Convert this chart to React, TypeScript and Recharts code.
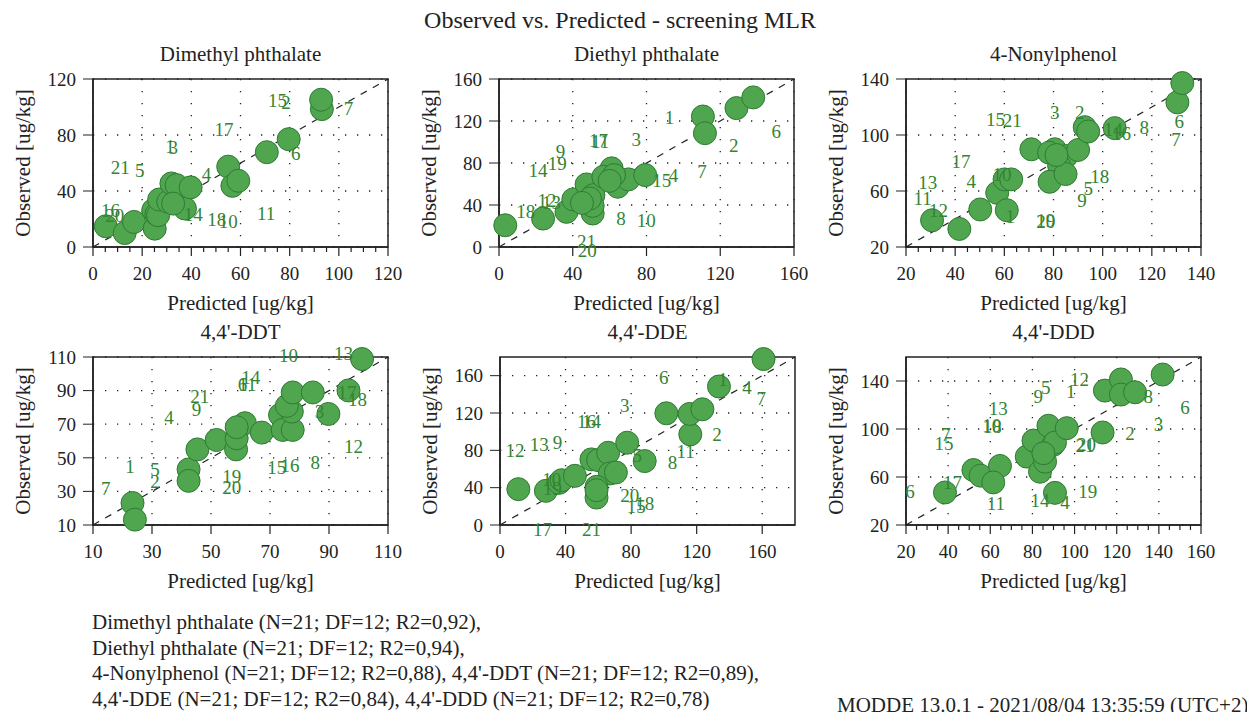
import React from 'react'
import {
  ScatterChart,
  Scatter,
  XAxis,
  YAxis,
  CartesianGrid,
  ReferenceLine,
  ReferenceDot,
  ReferenceArea
} from 'recharts'

type Pt = [number, number]
type Lab = [string, number, number]

// Dimethyl phthalate: [predicted, observed]
const dmpPoints: Pt[] = [
  [5.2, 14.8], [12.9, 10], [16.7, 17.9], [25.1, 13.1], [24.5, 26.3], [25.8, 23.4], [26.5, 22.7],
  [26.9, 33.9], [30.6, 32.3], [31.9, 45.4], [34, 44.2], [37.4, 27.5], [39.7, 42.6], [55, 57.4],
  [56.7, 43.7], [59.1, 47.3], [70.7, 67.7], [79.6, 77], [93.1, 98.5], [92.8, 105.2], [32.6, 31]
]
const dmpLabels: Lab[] = [
  ['15', 75.1, 104.5], ['2', 78.5, 103.5], ['7', 103.9, 99.2], ['17', 53.3, 84.1], ['6', 82.5, 66.9],
  ['1', 31.3, 71.7], ['3', 32.6, 71.2], ['21', 11.1, 56.7], ['5', 19, 54.3], ['4', 46.2, 52.1],
  ['16', 7.1, 25.8], ['20', 8.8, 22.7], ['14', 40.8, 23.2], ['18', 50.3, 19.6], ['10', 55, 17.9],
  ['11', 70.4, 23.9]
]

// Diethyl phthalate
const depPoints: Pt[] = [
  [3.4, 20.7], [23.9, 27.1], [36.6, 33.5], [40.3, 45.3], [47.5, 59.6], [50.8, 31.9], [51.2, 49.4],
  [50.8, 39.2], [61.1, 74.9], [56.6, 66.9], [64.4, 57.4], [70.2, 64.4], [62.4, 68.5], [79.3, 68.5],
  [110.6, 124.3], [111.7, 108.4], [128.8, 132.3], [137.9, 142.5], [49.3, 46.2], [60, 63], [45, 42]
]
const depLabels: Lab[] = [
  ['1', 92.5, 123.3], ['6', 150.4, 110], ['2', 127.3, 96.3], ['3', 74.4, 102.6], ['17', 53.9, 101],
  ['11', 54.8, 100.4], ['9', 33.4, 90.8], ['19', 31.6, 79.7], ['14', 21.2, 72.7], ['7', 110.1, 71.7],
  ['15', 88.3, 63.7], ['4', 94.7, 68.5], ['12', 26.1, 44.6], ['13', 28.5, 42.1], ['18', 14.5, 33.5],
  ['8', 66.2, 27.1], ['10', 79.8, 25.5], ['21', 47.5, 4.8], ['20', 47.8, -3.8]
]

// 4-Nonylphenol
const npPoints: Pt[] = [
  [30.6, 39.1], [41.7, 32.9], [50.2, 46.8], [57.1, 58.7], [61, 46.3], [60.1, 68.3], [62.8, 68.3],
  [71, 89.8], [80.5, 89.8], [78.2, 87.4], [85.3, 85], [82.3, 77.9], [78.4, 66.6], [84.9, 72.1],
  [90, 89.3], [92.7, 105.6], [94.1, 102.5], [104.9, 104.9], [130.4, 123.3], [132.4, 137.1], [81.2, 85.7]
]
const npLabels: Lab[] = [
  ['15', 56.4, 111.3], ['21', 63.2, 110.1], ['3', 80.5, 116.1], ['2', 90.7, 116.1], ['14', 104.3, 104.1],
  ['16', 107.7, 101.3], ['8', 116.9, 105.6], ['6', 131.2, 109.6], ['7', 129.8, 97], ['17', 42.4, 81],
  ['10', 59.1, 72.1], ['18', 98.8, 70.7], ['13', 28.8, 65.9], ['11', 26.8, 54.7], ['12', 33.2, 45.8],
  ['4', 46.5, 66.6], ['5', 94.1, 61.8], ['9', 91.6, 53], ['1', 62.4, 42], ['20', 76.8, 38.4],
  ['19', 76.8, 38.9]
]

// 4,4'-DDT
const ddtPoints: Pt[] = [
  [23.4, 23.1], [24.2, 13.2], [42.4, 43.1], [42.4, 36.3], [45.4, 55], [51.9, 60.6], [58.5, 55],
  [58.7, 61.6], [61.5, 70.6], [58.7, 68.2], [67.2, 65], [73.4, 75.5], [74.3, 66.6], [77.7, 66.6],
  [77.4, 77.5], [75.7, 80.9], [77.7, 88.9], [84.5, 88.9], [89.8, 76.1], [96.6, 90.1], [101.2, 108.8]
]
const ddtLabels: Lab[] = [
  ['10', 76.3, 110.8], ['13', 94.9, 112], ['14', 63.5, 98], ['6', 60.7, 93.5], ['11', 62.3, 93.5],
  ['21', 46.2, 86.5], ['9', 45.1, 78.9], ['4', 35.8, 74.1], ['17', 96.1, 88.9], ['18', 99.7, 84.5],
  ['3', 86.8, 77.5], ['12', 98.3, 57], ['1', 22.5, 45.1], ['5', 31, 43.1], ['2', 31, 35.7],
  ['7', 14.3, 31.7], ['19', 57, 38.7], ['20', 57, 32.3], ['15', 72.3, 44.3], ['16', 76.8, 45.7],
  ['8', 85.3, 47.1]
]

// 4,4'-DDE
const ddePoints: Pt[] = [
  [11.2, 38.4], [28, 36.6], [36.1, 45.2], [37.6, 48], [45.7, 52.7], [55.8, 70.3], [59.9, 69.5],
  [66, 77.4], [67, 55.2], [70.7, 56.3], [58.9, 40.9], [58.9, 29.4], [58.9, 37.3], [77.6, 88.2],
  [88.3, 68.5], [101.5, 119.7], [116.1, 97.1], [115.7, 119], [123.5, 124], [133.6, 148.4], [160.8, 177.8]
]
const ddeLabels: Lab[] = [
  ['6', 99.9, 158.4], ['1', 136, 155.6], ['4', 150.7, 147.3], ['7', 159.4, 135.8], ['3', 76.1, 127.6],
  ['16', 52.8, 110.8], ['14', 55.8, 110.8], ['2', 132.4, 97.1], ['12', 9.1, 79.6], ['13', 24, 86.7],
  ['9', 35.1, 88.2], ['11', 113.3, 78.5], ['8', 105.2, 67], ['5', 83.7, 74.9], ['10', 31.5, 48.7],
  ['19', 32.1, 39.1], ['20', 79.2, 31.2], ['18', 88.3, 22.9], ['15', 83.2, 19.4], ['17', 26, -5],
  ['21', 55.8, -5]
]

// 4,4'-DDD
const dddPoints: Pt[] = [
  [38.5, 47.1], [52, 65.8], [55.4, 61.1], [64.6, 69.2], [61.4, 55.5], [77.3, 77], [80.5, 90.4],
  [83.6, 64.4], [86, 72.8], [87.6, 102.7], [89.9, 86.8], [90.7, 88.7], [96.3, 100.7], [90.7, 46.8],
  [113.3, 97.1], [114.4, 132], [122, 141.3], [122, 128.7], [128.7, 130.6], [141.8, 145.4], [85.2, 79.8]
]
const dddLabels: Lab[] = [
  ['12', 102.3, 141.3], ['5', 86.3, 134.3], ['9', 82.8, 127.3], ['1', 98.2, 131.5], ['8', 135, 127.3],
  ['6', 152.4, 118.3], ['13', 63.8, 116.7], ['10', 60.7, 102.7], ['18', 60.9, 102.2], ['3', 139.8, 103.5],
  ['2', 126.3, 96.6], ['7', 39, 95.2], ['15', 38, 87.6], ['20', 105.7, 86.8], ['21', 105, 86.4],
  ['17', 42.1, 55.2], ['11', 62.7, 37.9], ['14', 83.6, 40.7], ['4', 95.5, 38.4], ['19', 106.2, 47.7],
  ['6', 21.9, 47.7]
]

const dmpXTicks = [0, 20, 40, 60, 80, 100, 120]
const dmpYTicks = [0, 40, 80, 120]
const depXTicks = [0, 40, 80, 120, 160]
const depYTicks = [0, 40, 80, 120, 160]
const npXTicks = [20, 40, 60, 80, 100, 120, 140]
const npYTicks = [20, 60, 100, 140]
const ddtXTicks = [10, 30, 50, 70, 90, 110]
const ddtYTicks = [10, 30, 50, 70, 90, 110]
const ddeXTicks = [0, 40, 80, 120, 160]
const ddeYTicks = [0, 40, 80, 120, 160]
const dddXTicks = [20, 40, 60, 80, 100, 120, 140, 160]
const dddYTicks = [20, 60, 100, 140]

const summaryLines = [
  'Dimethyl phthalate (N=21; DF=12; R2=0,92),',
  'Diethyl phthalate (N=21; DF=12; R2=0,94),',
  "4-Nonylphenol (N=21; DF=12; R2=0,88), 4,4'-DDT (N=21; DF=12; R2=0,89),",
  "4,4'-DDE (N=21; DF=12; R2=0,84), 4,4'-DDD (N=21; DF=12; R2=0,78)"
]

const FONT = '"Liberation Serif", "Times New Roman", serif'
const INK = '#222'
const GREEN = '#4fa64f'
const GREEN_DARK = '#2f7a33'
const LABEL_GREEN = '#338433'
const PW = 295
const PH = 168

const panels = [
  { title: 'Dimethyl phthalate', left: 93, top: 79, domain: [0, 120], xTicks: dmpXTicks, yTicks: dmpYTicks, minor: 5, points: dmpPoints, labels: dmpLabels },
  { title: 'Diethyl phthalate', left: 499, top: 79, domain: [0, 160], xTicks: depXTicks, yTicks: depYTicks, minor: 0, points: depPoints, labels: depLabels },
  { title: '4-Nonylphenol', left: 906, top: 79, domain: [20, 140], xTicks: npXTicks, yTicks: npYTicks, minor: 5, points: npPoints, labels: npLabels },
  { title: "4,4'-DDT", left: 93, top: 357, domain: [10, 110], xTicks: ddtXTicks, yTicks: ddtYTicks, minor: 0, points: ddtPoints, labels: ddtLabels },
  { title: "4,4'-DDE", left: 500, top: 357, domain: [0, 180], xTicks: ddeXTicks, yTicks: ddeYTicks, minor: 0, points: ddePoints, labels: ddeLabels },
  { title: "4,4'-DDD", left: 906, top: 357, domain: [20, 160], xTicks: dddXTicks, yTicks: dddYTicks, minor: 5, points: dddPoints, labels: dddLabels }
]

function Panel({ p }: { p: (typeof panels)[number] }) {
  const [lo, hi] = p.domain
  const allX: number[] = []
  if (p.minor) {
    for (let v = lo; v <= hi; v += p.minor) allX.push(v)
  } else {
    allX.push(...p.xTicks)
  }
  const data = p.points.map(([x, y]) => ({ x, y }))

  const renderXTick = (t: any) => {
    const v = t.payload.value
    const major = p.xTicks.includes(v)
    return (
      <g>
        <line x1={t.x} x2={t.x} y1={t.y} y2={t.y + (major ? 9 : 5)} stroke={INK} strokeWidth={1.2} />
        {major && (
          <text x={t.x} y={t.y + 33} textAnchor="middle" fontSize={19} fill={INK}>
            {v}
          </text>
        )}
      </g>
    )
  }

  return (
    <>
      <div style={{ position: 'absolute', left: p.left, top: p.top - 38, width: PW, textAlign: 'center', fontSize: 21, lineHeight: '26px', color: INK }}>
        {p.title}
      </div>
      <div style={{ position: 'absolute', left: p.left - 170, top: p.top + PH / 2 - 13, width: 200, height: 26, lineHeight: '26px', textAlign: 'center', fontSize: 21, color: INK, transform: 'rotate(-90deg)' }}>
        Observed [ug/kg]
      </div>
      <div style={{ position: 'absolute', left: p.left, top: p.top + PH + 43, width: PW, textAlign: 'center', fontSize: 21, lineHeight: '26px', color: INK }}>
        Predicted [ug/kg]
      </div>
      <div style={{ position: 'absolute', left: p.left - 90, top: p.top - 40 }}>
        <ScatterChart width={PW + 110} height={PH + 120} margin={{ top: 40, right: 20, left: 0, bottom: 0 }}>
          <CartesianGrid
            verticalValues={p.xTicks}
            horizontalValues={p.yTicks}
            stroke={INK}
            strokeWidth={1.3}
            strokeDasharray="1.3 10.7"
          />
          <XAxis
            type="number"
            dataKey="x"
            domain={p.domain}
            ticks={allX}
            interval={0}
            height={80}
            tickSize={0}
            tickMargin={0}
            tickLine={false}
            axisLine={{ stroke: INK, strokeWidth: 1.5 }}
            tick={renderXTick}
          />
          <YAxis
            type="number"
            dataKey="y"
            domain={p.domain}
            ticks={p.yTicks}
            interval={0}
            width={90}
            tickSize={10}
            tickMargin={7}
            stroke={INK}
            axisLine={{ stroke: INK, strokeWidth: 1.5 }}
            tick={{ fontSize: 19, fill: INK }}
          />
          <ReferenceArea x1={lo} x2={hi} y1={lo} y2={hi} fill="none" fillOpacity={0} stroke={INK} strokeWidth={1.5} ifOverflow="visible" />
          <ReferenceLine
            segment={[{ x: lo, y: lo }, { x: hi, y: hi }]}
            stroke={INK}
            strokeWidth={1.2}
            strokeDasharray="7 7"
            ifOverflow="visible"
          />
          <Scatter
            data={data}
            isAnimationActive={false}
            shape={(s: any) => (
              <circle cx={s.cx} cy={s.cy} r={11.5} fill={GREEN} stroke={GREEN_DARK} strokeWidth={1} />
            )}
          />
          {p.labels.map(([id, x, y], i) => (
            <ReferenceDot
              key={`lab-${i}`}
              x={x}
              y={y}
              ifOverflow="visible"
              zIndex={2000}
              shape={(s: any) => (
                <text x={s.cx} y={s.cy} textAnchor="middle" dominantBaseline="central" fontSize={19} fill={LABEL_GREEN}>
                  {id}
                </text>
              )}
            />
          ))}
        </ScatterChart>
      </div>
    </>
  )
}

export default function App() {
  return (
    <div style={{ position: 'absolute', left: 0, top: 0, width: 1247, height: 712, overflow: 'hidden', background: '#fff', fontFamily: FONT, color: INK }}>
      <div style={{ position: 'absolute', left: 0, top: 6, width: 1240, textAlign: 'center', fontSize: 24, lineHeight: '28px' }}>
        Observed vs. Predicted - screening MLR
      </div>
      {panels.map(p => (
        <Panel key={p.title} p={p} />
      ))}
      <div style={{ position: 'absolute', left: 92, top: 610, fontSize: 21, lineHeight: '25.5px', whiteSpace: 'nowrap' }}>
        {summaryLines.map(l => (
          <div key={l}>{l}</div>
        ))}
      </div>
      <div style={{ position: 'absolute', left: 837, top: 692, fontSize: 21, lineHeight: '26px', whiteSpace: 'nowrap' }}>
        MODDE 13.0.1 - 2021/08/04 13:35:59 (UTC+2)
      </div>
    </div>
  )
}
